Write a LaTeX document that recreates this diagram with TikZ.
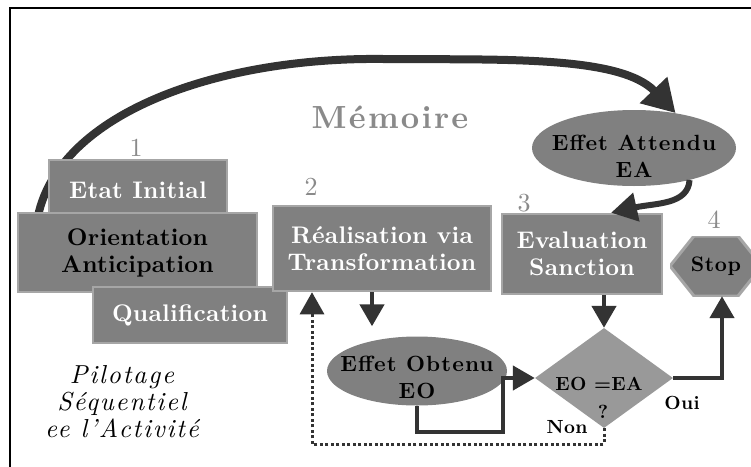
\documentclass[tikz,border=0pt]{standalone}
\usepackage{fontspec}
\setmainfont{lmroman10-regular.otf}[BoldFont=lmroman10-bold.otf, ItalicFont=lmroman10-italic.otf, BoldItalicFont=lmroman10-bolditalic.otf]
\usetikzlibrary{arrows.meta, positioning, shapes.geometric}
\definecolor{boxgray}{HTML}{808080}
\definecolor{edgegray}{HTML}{A6A6A6}
\definecolor{diagray}{HTML}{999999}
\definecolor{darkline}{HTML}{333333}
\definecolor{numgray}{HTML}{8A8A8A}

\begin{document}
\begin{tikzpicture}[x=1pt, y=-1pt,
    box/.style={rectangle, fill=boxgray, draw=edgegray, line width=2.5pt, inner sep=0pt, align=center, font=\fontsize{24}{27}\selectfont\bfseries\addfontfeature{LetterSpace=1}},
    oval/.style={ellipse, fill=boxgray, inner sep=0pt},
    ovaltext/.style={align=center, font=\fontsize{22}{27}\selectfont\bfseries\addfontfeature{LetterSpace=5}},
    stopbox/.style={rectangle, minimum width=92pt, minimum height=60pt, inner sep=0pt, font=\fontsize{21}{21}\selectfont\bfseries\addfontfeature{LetterSpace=3},
        path picture={\fill[boxgray, draw=edgegray, line width=3pt] (path picture bounding box.west) -- ([xshift=24pt]path picture bounding box.north west) -- ([xshift=-24pt]path picture bounding box.north east) -- (path picture bounding box.east) -- ([xshift=-24pt]path picture bounding box.south east) -- ([xshift=24pt]path picture bounding box.south west) -- cycle;}},
    num/.style={text=numgray, font=\fontsize{26}{26}\selectfont},
    tag/.style={font=\fontsize{19}{19}\selectfont\bfseries\addfontfeature{LetterSpace=2}},
    flow/.style={draw=darkline, line width=4.5pt, -{Triangle[length=22pt,width=24pt]}},
    retour/.style={draw=darkline, line width=3pt, dash pattern=on 3pt off 2.5pt, -{Triangle[length=22pt,width=24pt]}},
    memarrow/.style={draw=darkline, line width=8pt, -{Triangle[length=32pt,width=36pt]}}]

    \useasboundingbox (0,0) rectangle (751,466);
    \draw[line width=2.5pt] (10,480) |- (770,8);

    \node[text=numgray, font=\fontsize{32}{32}\selectfont\bfseries\addfontfeature{LetterSpace=7}] (mem) at (390,117) {Mémoire};

    \node[oval, minimum width=204pt, minimum height=76pt, label={[ovaltext, yshift=-8pt]center:{Effet Attendu\\EA}}] (ea) at (634,148) {};

    \coordinate (memstart) at (38,216);
    \draw[memarrow] (memstart) .. controls (60,112) and (220,57) .. (383,59) .. controls (500,60) and (620,55) .. (ea.40);

    \node[box, text=white, minimum width=178pt, minimum height=60pt] (etat) at (138,190) {Etat Initial};
    \node[box, minimum width=239pt, minimum height=79pt] (orient) at (137.5,252.5) {Orientation\\Anticipation};
    \node[box, text=white, minimum width=194pt, minimum height=56pt] (qual) at (190,315) {Qualification};
    \node[box, text=white, minimum width=218pt, minimum height=85pt] (real) at (382,248.5) {Réalisation via\\Transformation};
    \node[box, text=white, minimum width=160pt, minimum height=80pt] (eval) at (582,254) {Evaluation\\Sanction};
    \node[stopbox] (stop) at (716,266) {Stop};

    \node[num] (n1) at (136,148) {1};
    \node[num] (n2) at (311,187) {2};
    \node[num] (n3) at (524,203) {3};
    \node[num] (n4) at (714,220) {4};

    \node[oval, minimum width=180pt, minimum height=69pt, label={[ovaltext, yshift=-6pt]center:{Effet Obtenu\\EO}}] (eo) at (417,371) {};
    \node[diamond, fill=diagray, minimum width=138pt, minimum height=100pt, inner sep=0pt] (dec) at (604,378) {};
    \node[tag] (eqa) at (599,384) {EO =EA};
    \node[tag] (qm) at (603,412) {?};
    \node[tag] (oui) at (682,403) {Oui};
    \node[tag] (non) at (567,427) {Non};

    \node[font=\fontsize{26}{27}\selectfont\itshape\addfontfeature{LetterSpace=7}, align=center] (pilot) at (122,402) {Pilotage\\Séquentiel\\ee l'Activité};

    \draw[draw=darkline, line width=6pt, -{Triangle[length=26pt,width=28pt]}] (ea.-30) .. controls (688,205) and (655,203) .. ([xshift=29pt]eval.north);

    \coordinate (rdown) at ([xshift=-10pt]real.south);
    \draw[flow, shorten >=10pt] (rdown) -- (rdown |- eo.north);
    \draw[flow] (dec.north |- eval.south) -- (dec.north);
    \coordinate (eoturn) at (503,432);
    \draw[flow] (eo.south) |- (eoturn) |- (dec.west);
    \draw[flow] (dec.east) -| ([xshift=6pt]stop.south);
    \coordinate (nonturn) at (312,444);
    \draw[retour] (dec.south) |- (nonturn) -- (nonturn |- real.south);

\end{tikzpicture}
\end{document}
